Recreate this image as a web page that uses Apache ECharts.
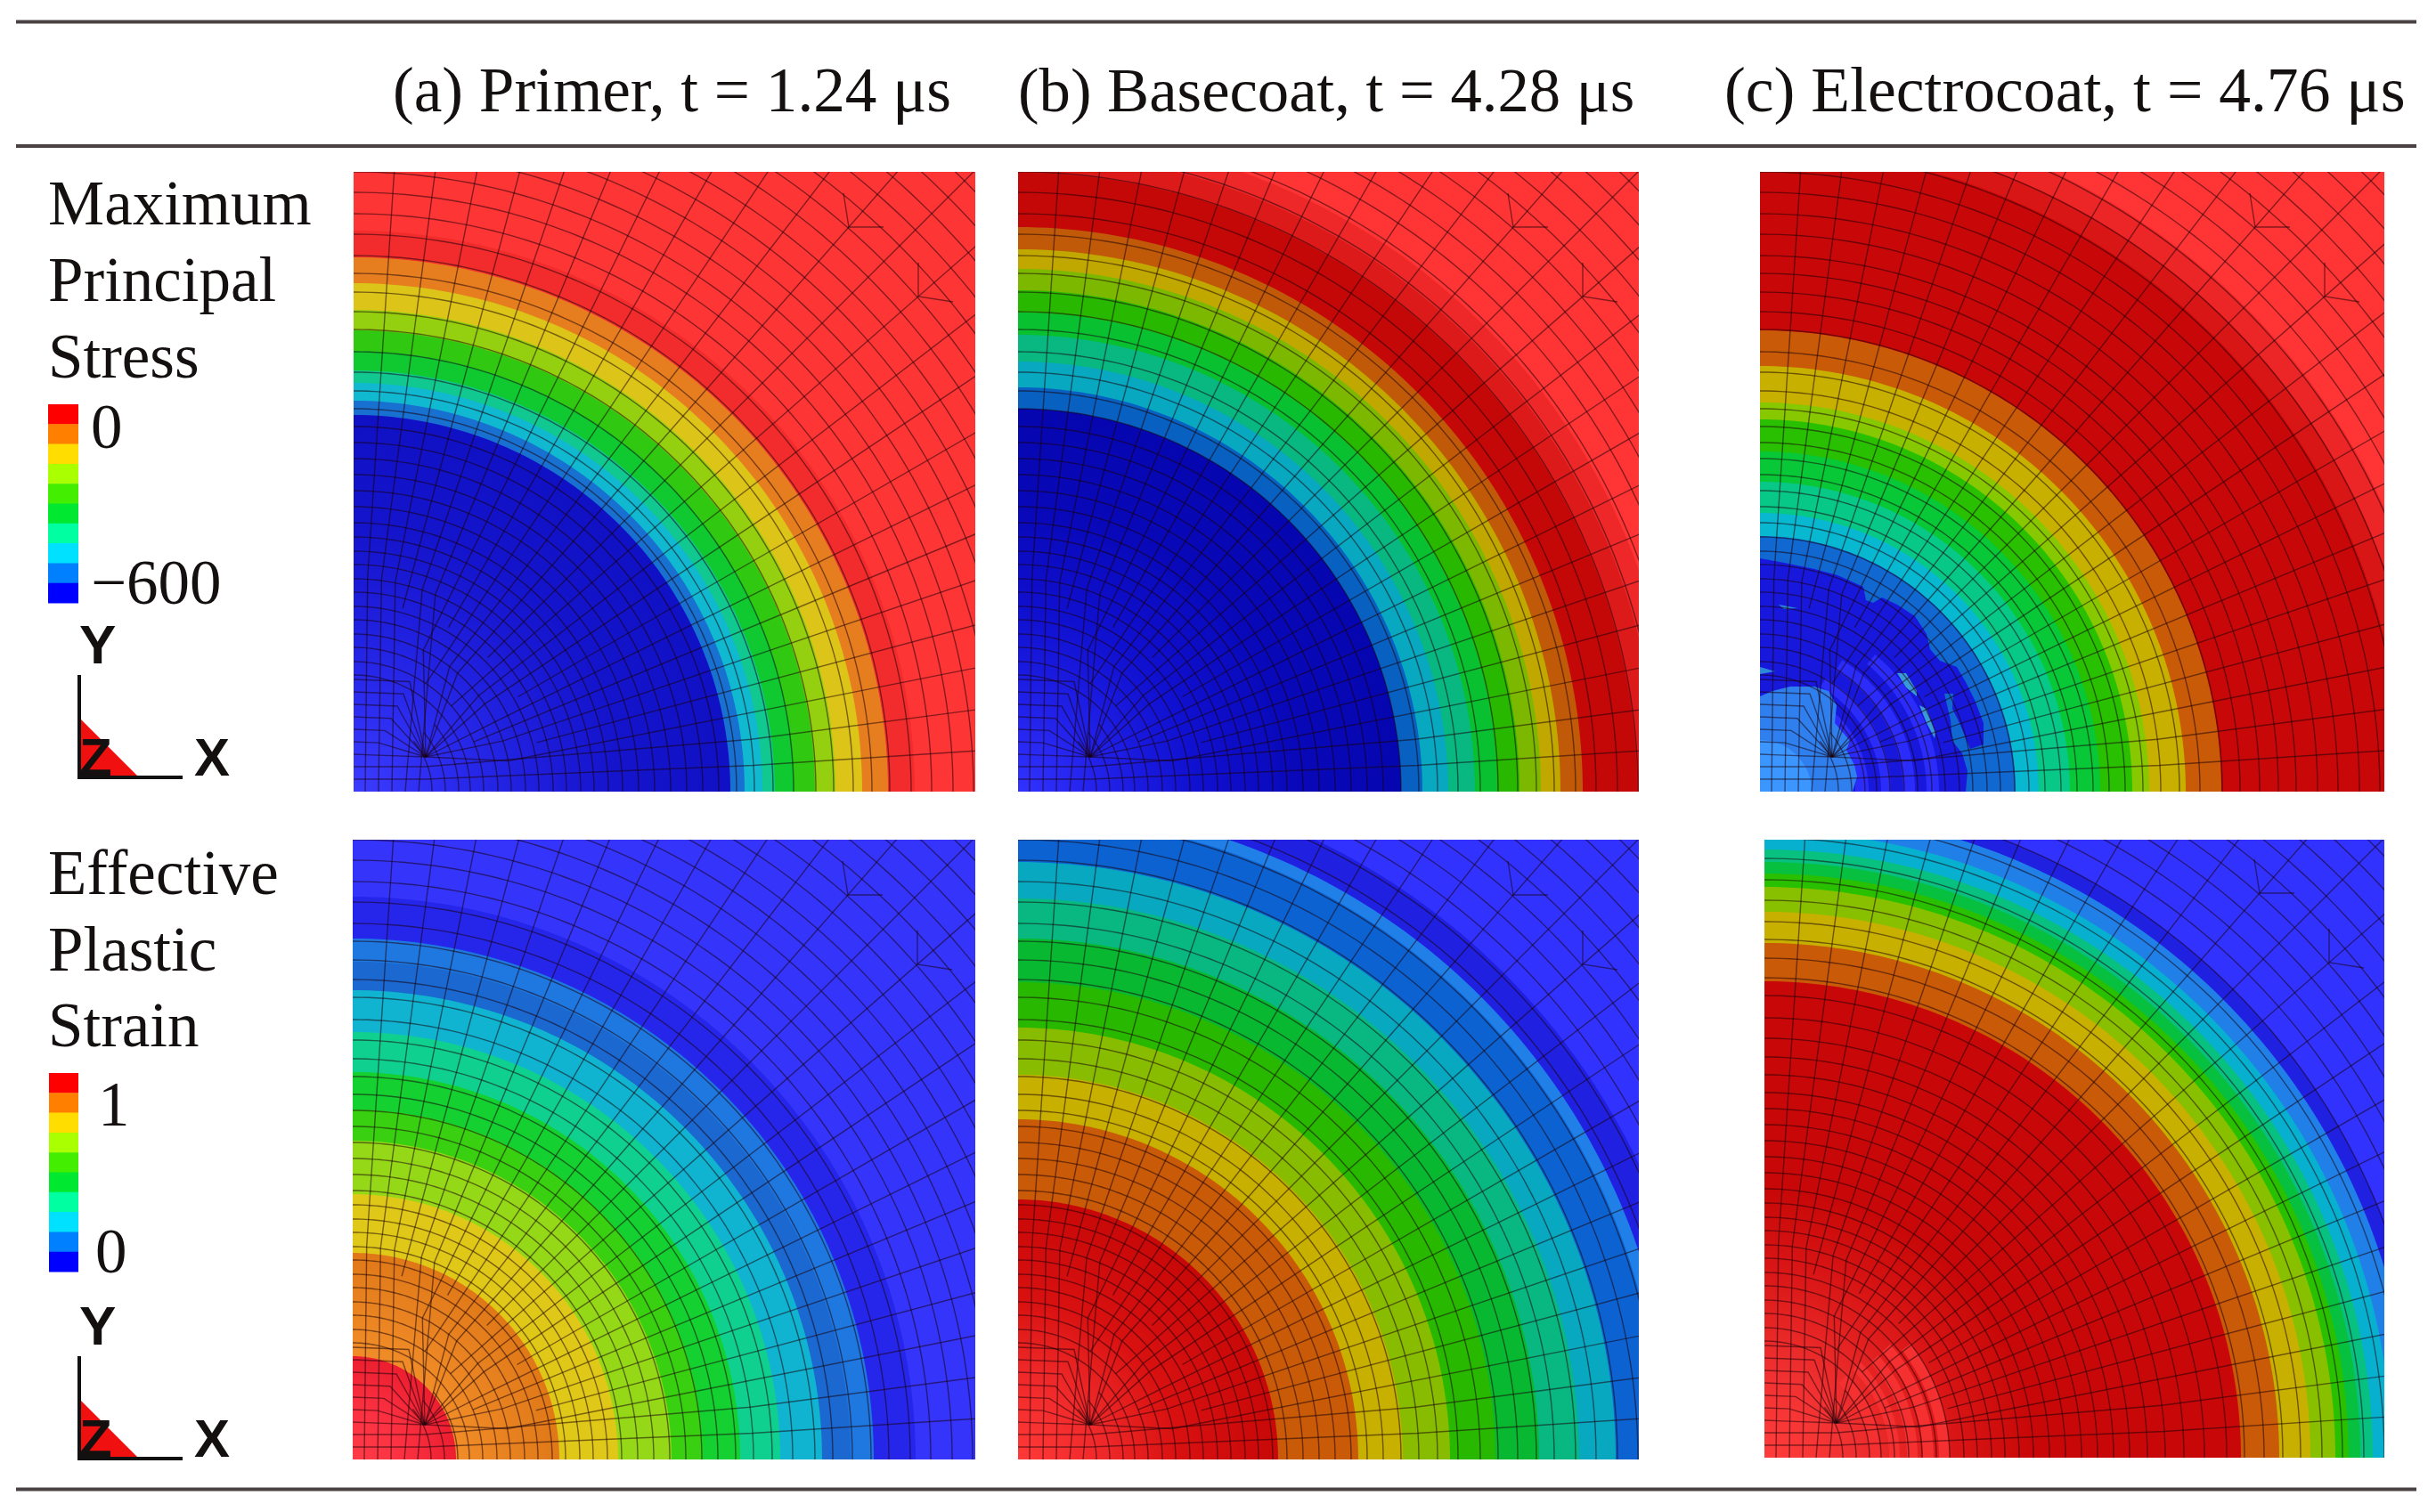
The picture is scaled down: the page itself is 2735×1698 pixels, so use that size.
<!DOCTYPE html>
<html><head><meta charset="utf-8">
<style>html,body{margin:0;padding:0;background:#fff}#c{width:2735px;height:1698px}</style>
<script src="https://cdn.jsdelivr.net/npm/echarts@6/dist/echarts.min.js"></script>
</head><body><div id="c"></div>
<script>
// ---------- text ----------
const columnTitles = ['(a) Primer, t = 1.24 μs', '(b) Basecoat, t = 4.28 μs', '(c) Electrocoat, t = 4.76 μs'];
const stressLabel = ['Maximum', 'Principal', 'Stress'];
const strainLabel = ['Effective', 'Plastic', 'Strain'];
const stressTicks = ['0', '−600'];
const strainTicks = ['1', '0'];

// ---------- contour band outer radii, outermost first ----------
const radiiStressA = [1100, 630, 600, 571, 541, 518, 495, 473, 459, 439, 423];
const radiiStressB = [1100, 740, 718, 695, 634, 609, 587, 563, 538, 513, 483, 454, 430];
const radiiStressC = [1100, 770, 745, 722, 518, 478, 437, 418, 382, 348, 313, 287];
const radiiStrainA = [1100, 632, 585, 559, 527, 480, 435, 393, 358, 298, 232, 116];
const radiiStrainB = [1100, 772, 735, 722, 671, 630, 585, 536, 485, 432, 382, 292];
const radiiStrainC = [1100, 744, 728, 704, 683, 669, 656, 641, 613, 578, 535];

// ---------- band colours; an array is a list of [radius, colour] shading stops ----------
const blueLitA = [[0,'#3c3cff'],[100,'#2c2cf0'],[200,'#1e1edc'],[300,'#1414cc'],[423,'#1010c4']];
const blueLitB = [[0,'#3232ff'],[100,'#2020e8'],[200,'#1010d0'],[320,'#0808b8'],[430,'#0606b0']];
const orangeLitA = [[0,'#f09030'],[120,'#f08c28'],[232,'#e07818']];
const redLitA = [[0,'#ff3c48'],[60,'#fa3040'],[116,'#ec1e30']];
const redLitB = [[0,'#ff3838'],[100,'#ee2828'],[180,'#d81010'],[292,'#c80808']];
const redLitC = [[0,'#ff3c3c'],[100,'#f03030'],[220,'#d81414'],[300,'#c80808'],[535,'#c80808']];
const coloursStressA = ['#fe3535','#f22c2c','#e67e20','#dcc418','#94d010','#30c810','#10c830','#10c890','#10b8d0','#1870d0',blueLitA];
const coloursStressB = ['#ff3434','#ee2828','#dc1a1a','#c40808','#c05a08','#c0a800','#7cb800','#28b800','#08c030','#08b880','#08a8c0','#0860c0',blueLitB];
const coloursStressC = ['#ff3434','#ec2626','#d81616','#c80808','#c85a08','#c8b000','#88c800','#28c000','#08c838','#08c888','#08b8d0','#1068d0'];
const coloursStrainA = ['#3434fb','#2626ea','#1f78e0','#1a68d0','#10b4d0','#10d090','#14d030','#38d010','#94d818','#e0c818',orangeLitA,redLitA];
const coloursStrainB = ['#3232ff','#2020e0','#2080e8','#0c62d0','#08a8c0','#08b880','#08b830','#28b800','#88bc00','#c8b000','#c85a08',redLitB];
const coloursStrainC = ['#3232ff','#2020e0','#2080e8','#08b0d0','#08c080','#08c040','#28c000','#88c000','#c8b000','#c85a08',redLitC];

// ---------- irregular regions of panel (c), stress ----------
const blobDark = [[0,262],[27,257],[61,250],[87,243],[116,230],[119,215],[127,212],[137,218],[154,210],[174,197],[187,177],[191,160],[202,147],[221,140],[231,123],[241,103],[251,77],[251,53],[236,48],[224,77],[216,93],[217,110],[207,110],[214,80],[216,57],[227,43],[233,23],[231,0],[0,0]];
const blobLight = [[0,107],[14,113],[34,118],[61,118],[77,113],[86,97],[84,77],[101,57],[97,47],[106,30],[109,17],[104,0],[0,0]];
const sliverA = [[154,133],[164,133],[176,113],[176,107],[164,117]];
const sliverB = [[179,97],[187,93],[197,67],[196,60],[187,77]];
const sliverC = [[21,210],[42,206],[27,205]];
const sliverD = [[0,140],[17,135],[0,132]];
// [inner radius, outer radius, start angle, end angle]
const stripesStressC = [[107,122,0,62],[136,147,0,60],[161,174,0,58],[187,201,0,50]];
const coreStressC = [[0,58,0,90]];
const stripesStrainC = [[118,130,0,45],[140,152,0,45],[160,172,0,42],[178,190,0,42],[196,208,0,38]];

// ---------- finite element mesh ----------
const meshRings = [131,146,162,177,193,208,224,239,255,270,286,302,320,338,356,374,392,410,430,450,471,494,519,539,561,582,602,626,649,673,696,720,744,768,792,817,842,867,892,918,944,970,996];
const meshLowRings = [88,103,118];
const meshLeftRows = [42,56,70,84,98,112,126];
const meshSpokes = [3.75,7.5,11.25,15,18.75,22.5,26.25,30,33.75,37.5,41.25,45,48.75,52.5,56.25,60,63.75,67.5,71.25,75,78.75,82.5,86.25];
const spokesEndingOuter = [15,30,45,60,75];
const spokesEndingInner = [56.25,41.25,22.5];
const spokeFeet = {86.25:[[13,0]],82.5:[[28,0]],78.75:[[43,0]],71.25:[[58,0]],67.5:[[73,0]],7.5:[[0,28],[81,28]],3.75:[[0,14],[81,14]]};
const meshFanNode = [81,39];
const meshKinks = [[[550,672],[556,634],[595,634]], [[634,594],[634,556],[673,550]]];

// ---------- colour bar ----------
const barColours = ['#ff0000','#ff7f00','#ffdd00','#aaff00','#44ee00','#00e830','#00ffa0','#00e0ff','#0080ff','#0000ff'];

const panels = [
 {box:[397,193,698,696], radii:radiiStressA, colours:coloursStressA},
 {box:[1143,193,697,696], radii:radiiStressB, colours:coloursStressB},
 {box:[1976,193,701,696], radii:radiiStressC, colours:coloursStressC,
  patches:[[blobDark,'#1818dc'],[sliverA,'#3a9ad8'],[sliverB,'#3a9ad8'],[sliverC,'#2e88d8'],[sliverD,'#2e88d8']],
  arcs:[[stripesStressC,'#2c2cfa']], over:[[blobLight,'#2f80ee']], overArcs:[[coreStressC,'#3c96ff']]},
 {box:[396,943,699,696], radii:radiiStrainA, colours:coloursStrainA},
 {box:[1143,943,697,696], radii:radiiStrainB, colours:coloursStrainB},
 {box:[1981,943,696,694], radii:radiiStrainC, colours:coloursStrainC,
  arcs:[[stripesStrainC,'#f43030']]}
];

const chart = echarts.init(document.getElementById('c'), null, {renderer:'canvas', width:2735, height:1698});

function polar(r,a){const t=a*Math.PI/180;return [r*Math.cos(t),r*Math.sin(t)];}
function arcPts(api, r, a0, a1){
  const pts=[]; const n=Math.max(8,Math.round((a1-a0)));
  for(let i=0;i<=n;i++){pts.push(api.coord(polar(r,a0+(a1-a0)*i/n)));}
  return pts;
}
function bandFill(api, c, rOuter){
  if(typeof c==='string') return c;
  const o=api.coord([0,0]); const R=Math.abs(api.coord([rOuter,0])[0]-o[0]);
  return new echarts.graphic.RadialGradient(o[0],o[1],R,
    c.map(s=>({offset:Math.min(1,s[0]/rOuter),color:s[1]})),true);
}

const grids=[],xAxes=[],yAxes=[],series=[];
panels.forEach((p,idx)=>{
  const [l,t,w,h]=p.box;
  grids.push({left:l,top:t,width:w,height:h});
  xAxes.push({type:'value',gridIndex:idx,min:0,max:w,show:false});
  yAxes.push({type:'value',gridIndex:idx,min:0,max:h,show:false});
  const base={type:'custom',xAxisIndex:idx,yAxisIndex:idx,clip:true,silent:true,animation:false};
  series.push(Object.assign({},base,{
    data:p.radii.map((r,i)=>[r,i]),
    renderItem:(params,api)=>{
      const r=api.value(0), i=api.value(1);
      const pts=[api.coord([0,0])].concat(arcPts(api,r,0,90));
      return {type:'polygon',shape:{points:pts},style:{fill:bandFill(api,p.colours[i],r)}};
    }}));
  const polySeries=(list)=>Object.assign({},base,{
      data:list.map((q,i)=>[i,0]),
      renderItem:(params,api)=>{
        const q=list[api.value(0)];
        return {type:'polygon',shape:{points:q[0].map(c=>api.coord(c))},style:{fill:q[1]}};
      }});
  const arcSeries=(list)=>{
    const flat=[];list.forEach(g=>g[0].forEach(a=>flat.push([a,g[1]])));
    return Object.assign({},base,{
      data:flat.map((q,i)=>[i,0]),
      renderItem:(params,api)=>{
        const q=flat[api.value(0)], a=q[0];
        const outer=arcPts(api,a[1],a[2],a[3]);
        const inner=a[0]>0?arcPts(api,a[0],a[2],a[3]).reverse():[api.coord([0,0])];
        return {type:'polygon',shape:{points:outer.concat(inner)},style:{fill:q[1]}};
      }});
  };
  if(p.patches) series.push(polySeries(p.patches));
  if(p.arcs) series.push(arcSeries(p.arcs));
  if(p.over) series.push(polySeries(p.over));
  if(p.overArcs) series.push(arcSeries(p.overArcs));
  // mesh
  const stroke={stroke:'rgba(25,0,10,0.52)',lineWidth:1.4,fill:null};
  const meshData=[].concat(
    meshRings.map(r=>[0,r]),
    meshSpokes.map(a=>[1,a]),
    meshKinks.map((k,i)=>[2,i]),
    meshLowRings.map(r=>[3,r]),
    meshLeftRows.map(y=>[4,y]));
  series.push(Object.assign({},base,{
    data:meshData,
    renderItem:(params,api)=>{
      const kind=api.value(0), v=api.value(1);
      let pts;
      if(kind===0){ pts=arcPts(api,v,0,90); }
      else if(kind===2){ pts=meshKinks[v].map(c=>api.coord(c)); }
      else if(kind===3){ pts=arcPts(api,v,0,40); }
      else if(kind===4){ pts=[[0,v],[0.5*v,v*0.98],meshFanNode].map(c=>api.coord(c)); }
      else{
        let raw;
        if(spokesEndingOuter.indexOf(v)>=0) raw=[polar(213,v),polar(1000,v)];
        else if(spokesEndingInner.indexOf(v)>=0) raw=[polar(146,v),polar(1000,v)];
        else if(spokeFeet[v]){
          raw=spokeFeet[v].concat([polar(v<45?450:240,v),polar(1000,v)]);
        } else {
          raw=[meshFanNode,polar(177,v),polar(1000,v)];
        }
        pts=raw.map(c=>api.coord(c));
      }
      return {type:'polyline',shape:{points:pts},style:stroke};
    }}));
});

// colour bars, on their own grids
[[54,454,34,223],[55,1205,33,223]].forEach((b,k)=>{
  const gi=grids.length;
  grids.push({left:b[0],top:b[1],width:b[2],height:b[3]});
  xAxes.push({type:'category',gridIndex:gi,data:['c'],show:false});
  yAxes.push({type:'category',gridIndex:gi,data:barColours.map((c,i)=>String(i)),inverse:true,show:false});
  series.push({type:'custom',xAxisIndex:gi,yAxisIndex:gi,silent:true,animation:false,
    data:barColours.map((c,i)=>[0,i]),
    renderItem:(params,api)=>{
      const s=api.size([1,1]); const c=api.coord([0,api.value(1)]);
      return {type:'rect',shape:{x:c[0]-s[0]/2,y:c[1]-s[1]/2,width:s[0],height:s[1]+0.5},style:{fill:barColours[api.value(1)]}};
    }});
});

// text and rules
const serif='"Liberation Serif","Times New Roman",serif', sans='"Liberation Sans",Arial,sans-serif';
const txt=(s,x,y,size,font,weight)=>({type:'text',x:x,y:y,silent:true,style:{text:s,fill:'#141010',font:(weight||'normal')+' '+size+'px '+(font||serif),verticalAlign:'middle'}});
const rule=(y)=>({type:'line',silent:true,shape:{x1:18,y1:y,x2:2713,y2:y},style:{stroke:'#4a4242',lineWidth:4}});
const gfx=[rule(24.5),rule(164),rule(1672.5),
  txt(columnTitles[0],441,106,71.2),txt(columnTitles[1],1143,106,70.7),txt(columnTitles[2],1936,106,71.6),
  txt(stressLabel[0],54,233,71),txt(stressLabel[1],54,319,71),txt(stressLabel[2],54,405,71),
  txt(strainLabel[0],54,985,71),txt(strainLabel[1],54,1071,71),txt(strainLabel[2],54,1156,71),
  txt(stressTicks[0],102,484,71),txt(stressTicks[1],102,659,71),
  txt(strainTicks[0],110,1245,71),txt(strainTicks[1],107,1410,71)];
[0,765].forEach(dy=>{
  gfx.push({type:'polygon',silent:true,shape:{points:[[91,808+dy],[156,873+dy],[91,873+dy]]},style:{fill:'#f01010'}});
  gfx.push({type:'line',silent:true,shape:{x1:89,y1:758+dy,x2:89,y2:875+dy},style:{stroke:'#111',lineWidth:4}});
  gfx.push({type:'line',silent:true,shape:{x1:87,y1:873+dy,x2:205,y2:873+dy},style:{stroke:'#111',lineWidth:4}});
  gfx.push(txt('Y',89,728+dy,62,sans,'bold'));
  gfx.push(txt('Z',89,854+dy,60,sans,'bold'));
  gfx.push(txt('X',218,854+dy,60,sans,'bold'));
});

chart.setOption({animation:false,backgroundColor:'#fff',tooltip:{show:false},legend:{show:false},
  grid:grids,xAxis:xAxes,yAxis:yAxes,series:series,graphic:{elements:gfx}});
</script></body></html>
